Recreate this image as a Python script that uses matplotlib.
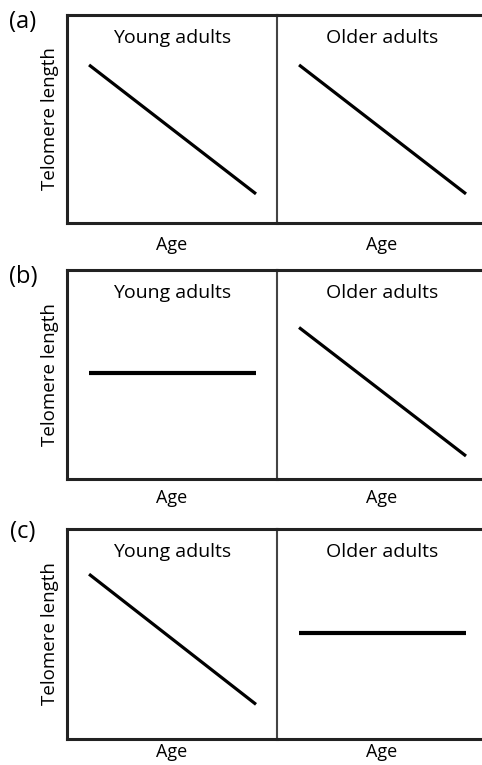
import matplotlib.pyplot as plt

plt.rcParams['font.family'] = ['Open Sans', 'DejaVu Sans']

# hypothetical telomere-length trends (0-10 scale)
age = [1.05, 9.0]
young_a = [7.6, 1.4]
older_a = [7.6, 1.4]
young_b = [5.05, 5.05]
older_b = [7.25, 1.1]
young_c = [7.85, 1.65]
older_c = [5.05, 5.05]

panel_letters = ['(a)', '(b)', '(c)']
group_titles = ['Young adults', 'Older adults']

rows = [(young_a, older_a), (young_b, older_b), (young_c, older_c)]

fig = plt.figure(figsize=(4.82, 7.65), dpi=100)

W, H = 482, 765
boxes = [(15, 223), (270, 479), (529, 739)]   # top, bottom in pixels
letter_y = [22, 277, 532]
age_pad = [9, 7, 3]

for r, (top, bottom) in enumerate(boxes):
    for c in range(2):
        x0 = 67 if c == 0 else 277
        ax = fig.add_axes([x0 / W, (H - bottom) / H, 210 / W, (bottom - top) / H])
        ax.set_facecolor('none')
        vals = rows[r][c]
        flat = vals[0] == vals[1]
        ax.plot(age, vals, color='black', lw=3.0 if flat else 2.3,
                solid_capstyle='butt')
        ax.set_xlim(0, 10)
        ax.set_ylim(0, 10)
        ax.set_xticks([])
        ax.set_yticks([])
        for s in ax.spines.values():
            s.set_linewidth(2.2)
            s.set_color('#222222')
        if c == 0:
            ax.spines['right'].set_linewidth(1.5)
            ax.spines['right'].set_color('#444444')
        else:
            ax.spines['left'].set_visible(False)
        ax.text(0.5, 0.89, group_titles[c], transform=ax.transAxes,
                ha='center', va='center', fontsize=14)
        ax.set_xlabel('Age', fontsize=13, labelpad=age_pad[r])
        if c == 0:
            ax.set_ylabel('Telomere length', fontsize=13.5, labelpad=6)
    fig.text(23 / W, 1 - letter_y[r] / H, panel_letters[r],
             ha='center', va='center', fontsize=17)

plt.savefig('out.png', dpi=100)
